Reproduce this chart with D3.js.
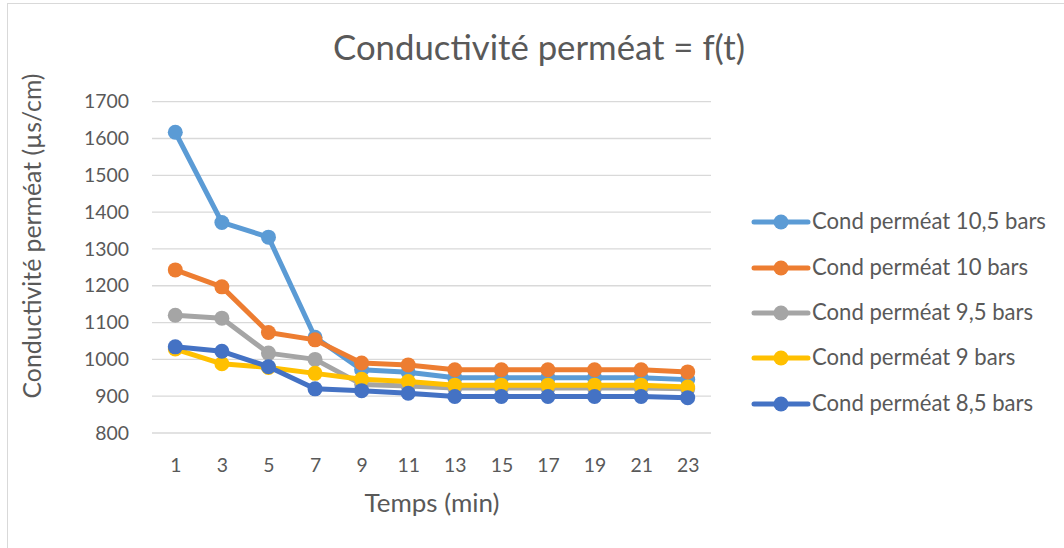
<!DOCTYPE html>
<html><head><meta charset="utf-8">
<script src="https://cdn.jsdelivr.net/npm/d3@7/dist/d3.min.js"></script>
<style>body{margin:0;background:#fff;} svg{display:block;}</style>
</head><body>
<script>
const times = ["1","3","5","7","9","11","13","15","17","19","21","23"];
const yTicks = [800,900,1000,1100,1200,1300,1400,1500,1600,1700];
const seriesNames = ["Cond perméat 10,5 bars","Cond perméat 10 bars","Cond perméat 9,5 bars","Cond perméat 9 bars","Cond perméat 8,5 bars"];
const s105 = [1617,1372,1332,1060,972,965,950,950,950,950,950,945];
const s10  = [1243,1197,1073,1053,990,985,972,972,972,972,972,966];
const s95  = [1120,1112,1017,1000,932,928,922,922,922,922,922,920];
const s9   = [1028,988,978,962,946,940,930,930,930,930,930,925];
const s85  = [1034,1022,980,920,915,908,899,899,899,899,899,896];
const colors = ["#5B9BD5","#ED7D31","#A5A5A5","#FFC000","#4472C4"];
const seriesValues = [s105,s10,s95,s9,s85];

const W=1064,H=548;
const FONT="Lato, 'Open Sans', sans-serif";
const TXT="#595959";
const svg=d3.select("body").append("svg").attr("width",W).attr("height",H);
svg.append("rect").attr("x",7.5).attr("y",3.5).attr("width",W).attr("height",H).attr("fill","#fff").attr("stroke","#D9D9D9");

const plot={l:152,r:711,t:101.7,b:433};
const x=d3.scalePoint().domain(times).range([plot.l,plot.r]).padding(0.5);
const y=d3.scaleLinear().domain([800,1700]).range([plot.b,plot.t]);

function fit(sel,target){
  const n=sel.node(); const w=n.getComputedTextLength();
  const fs=parseFloat(sel.attr("font-size"));
  sel.attr("font-size",fs*target/w);
}

// gridlines
svg.append("g").selectAll("line").data(yTicks).join("line")
  .attr("x1",plot.l).attr("x2",plot.r).attr("y1",d=>y(d)).attr("y2",d=>y(d))
  .attr("stroke","#D9D9D9").attr("stroke-width",1.3);

// y axis labels
const yAxis=svg.append("g").attr("transform",`translate(${plot.l},0)`)
  .call(d3.axisLeft(y).tickValues(yTicks).tickFormat(d3.format("d")).tickSize(0).tickPadding(23));
yAxis.select(".domain").remove();
yAxis.selectAll("text").attr("font-family",FONT).attr("fill",TXT).attr("font-size",16);
{const t=yAxis.selectAll("text").filter(d=>d===1700); const w=t.node().getComputedTextLength(); const fs=16*45/w; yAxis.selectAll("text").attr("font-size",fs);}

// x axis labels
const xAxis=svg.append("g").attr("transform",`translate(0,${plot.b})`)
  .call(d3.axisBottom(x).tickSize(0).tickPadding(25));
xAxis.select(".domain").remove();
xAxis.selectAll("text").attr("font-family",FONT).attr("fill",TXT).attr("font-size",+yAxis.select("text").attr("font-size"));

// lines
const line=d3.line().x((d,i)=>x(times[i])).y(d=>y(d));
seriesValues.forEach((vals,k)=>{
  const g=svg.append("g");
  g.append("path").datum(vals).attr("d",line).attr("fill","none").attr("stroke",colors[k])
   .attr("stroke-width",5).attr("stroke-linejoin","round").attr("stroke-linecap","round");
  g.selectAll("circle").data(vals).join("circle")
   .attr("cx",(d,i)=>x(times[i])).attr("cy",d=>y(d)).attr("r",7.5).attr("fill",colors[k]);
});

// title
const title=svg.append("text").attr("x",539).attr("y",60).attr("text-anchor","middle")
 .attr("font-family",FONT).attr("fill",TXT).attr("font-size",28).text("Conductivité perméat = f(t)");
fit(title,412);

// axis titles
const xt=svg.append("text").attr("x",432).attr("y",512).attr("text-anchor","middle")
 .attr("font-family",FONT).attr("fill",TXT).attr("font-size",18).text("Temps (min)");
fit(xt,135);
const yt=svg.append("text").attr("transform","translate(41,236) rotate(-90)").attr("text-anchor","middle")
 .attr("font-family",FONT).attr("fill",TXT).attr("font-size",18).text("Conductivité perméat (µs/cm)");
fit(yt,325);

// legend
const legY=[222,268,313,358,404];
const leg=svg.append("g");
seriesNames.forEach((nm,k)=>{
  const gy=legY[k];
  leg.append("line").attr("x1",754).attr("x2",808).attr("y1",gy).attr("y2",gy).attr("stroke",colors[k]).attr("stroke-width",5).attr("stroke-linecap","round");
  leg.append("circle").attr("cx",781).attr("cy",gy).attr("r",7.5).attr("fill",colors[k]);
  const t=leg.append("text").attr("x",812).attr("y",gy+7).attr("font-family",FONT).attr("fill",TXT).attr("font-size",18).text(nm);
  if(k===0) fit(t,234);
});
const lfs=leg.select("text").attr("font-size");
leg.selectAll("text").attr("font-size",lfs);
</script>
</body></html>
